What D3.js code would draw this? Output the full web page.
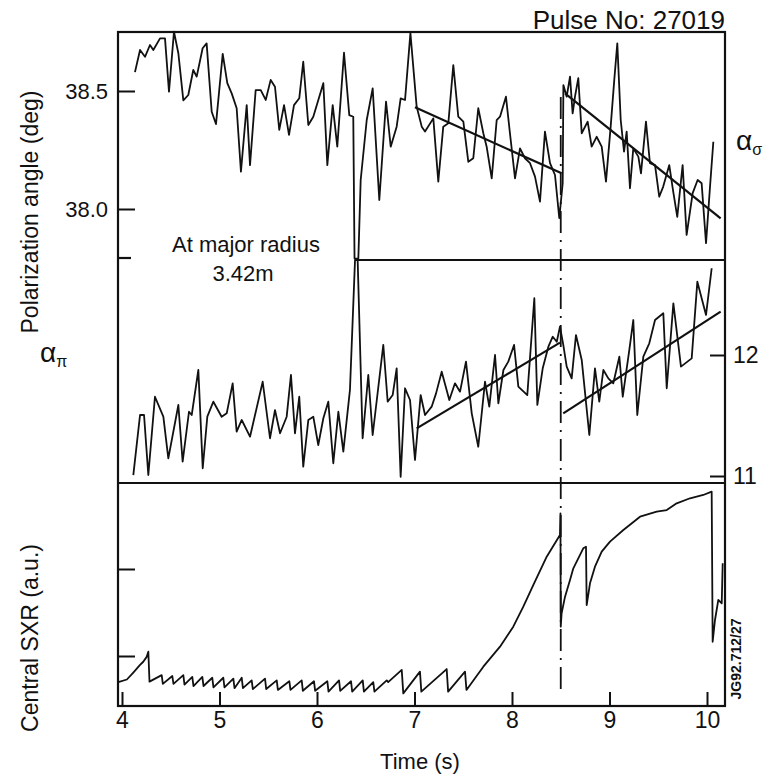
<!DOCTYPE html>
<html lang="en">
<head>
<meta charset="utf-8">
<title>Pulse 27019 polarization angles and SXR</title>
<script src="https://d3js.org/d3.v7.min.js"></script>
<style>
    body { margin: 0; background: #fff; }
    #chart text { font-family: "Liberation Sans", Arial, Helvetica, sans-serif; fill: #111; }
    .trace { fill: none; stroke: #111; stroke-width: 1.8; stroke-linejoin: round; }
    .fit { stroke: #111; stroke-width: 2.2; }
    .frame { fill: none; stroke: #111; stroke-width: 2.2; }
    .tick line { stroke: #111; stroke-width: 2; }
</style>
</head>
<body>
<svg id="chart" width="764" height="774"></svg>
<script>
// ---- data ----
let timeTicks = [4, 5, 6, 7, 8, 9, 10];
let sigmaTicks = [38.0, 38.5];
let piTicks = [11, 12];
let sxrTicks = [1, 2];
let crashTime = 8.5;

// alpha sigma (top trace, left axis, deg)
let sigmaTime = [4.133,4.185,4.236,4.287,4.321,4.390,4.441,4.482,4.533,4.578,4.629,4.680,4.731,4.766,4.827,4.868,4.920,4.964,
    5.033,5.080,5.125,5.176,5.220,5.279,5.313,5.371,5.423,5.474,5.525,5.569,5.613,5.662,5.713,5.764,5.818,5.859,5.911,5.962,
    6.065,6.106,6.161,6.208,6.277,6.331,6.372,6.385,6.424,6.448,6.510,6.571,6.639,6.708,6.756,6.817,6.858,6.903,6.958,
    7.022,7.074,7.108,7.193,7.244,7.295,7.347,7.398,7.449,7.501,7.552,7.603,7.654,7.706,7.740,7.792,7.843,7.877,7.938,7.979,
    8.031,8.082,8.133,8.185,8.236,8.287,8.338,8.390,8.441,8.485,8.520,8.527,8.561,8.595,8.622,8.646,8.680,8.715,8.776,8.817,
    8.868,8.920,8.964,9.012,9.049,9.080,9.115,9.149,9.176,9.210,9.244,9.296,9.323,9.374,9.415,9.467,9.510,9.551,9.613,9.654,
    9.695,9.750,9.791,9.853,9.904,9.945,9.990,10.031,10.065];
let sigmaAngle = [38.58,38.674,38.645,38.695,38.674,38.723,38.723,38.497,38.751,38.66,38.46,38.483,38.589,38.561,38.681,38.702,38.412,38.36,
    38.657,38.533,38.49,38.427,38.158,38.44,38.186,38.504,38.504,38.462,38.547,38.518,38.335,38.44,38.314,38.44,38.469,38.624,38.356,38.391,
    38.533,38.186,38.44,38.264,38.662,38.398,38.391,37.79,37.79,38.123,38.377,38.511,38.038,38.455,38.264,38.349,38.469,38.462,38.745,
    38.434,38.349,38.328,38.384,38.116,38.349,38.363,38.61,38.391,38.37,38.2,38.215,38.427,38.321,38.264,38.13,38.377,38.391,38.476,38.321,
    38.13,38.257,38.215,38.194,38.137,38.031,38.328,38.194,38.144,37.961,38.109,38.525,38.476,38.561,38.405,38.476,38.554,38.321,38.37,38.264,
    38.306,38.264,38.116,38.349,38.547,38.702,38.377,38.243,38.328,38.088,38.257,38.222,38.151,38.37,38.194,38.186,38.052,38.095,38.186,38.073,
    37.967,38.186,37.89,38.067,38.123,38.109,37.855,38.095,38.285];
let sigmaFits = [[[7.005, 38.431], [8.509, 38.151]], [[8.544, 38.49], [10.14, 37.96]]];

// alpha pi (middle trace, right axis, deg)
let piTime = [4.116,4.185,4.226,4.270,4.338,4.424,4.475,4.578,4.622,4.687,4.715,4.783,4.828,4.875,4.937,
    5.022,5.074,5.135,5.176,5.228,5.313,5.443,5.518,5.569,5.621,5.689,5.733,5.774,5.818,5.859,5.911,5.962,
    6.013,6.065,6.116,6.167,6.219,6.270,6.338,6.390,6.417,6.468,6.526,6.571,6.680,6.725,6.776,6.817,6.858,6.903,6.954,
    7.005,7.063,7.108,7.176,7.221,7.279,7.357,7.415,7.467,7.528,7.587,7.654,7.723,7.767,7.826,7.860,7.912,7.962,
    8.021,8.065,8.157,8.229,8.260,8.315,8.373,8.418,8.459,8.492,8.526,8.561,8.612,8.656,8.715,8.793,8.851,8.895,8.937,8.988,
    9.039,9.101,9.136,9.203,9.244,9.285,9.347,9.408,9.467,9.552,9.587,9.655,9.733,9.843,9.901,9.990,10.048];
let piAngle = [11.008,11.504,11.504,11.008,11.655,11.49,11.146,11.587,11.118,11.531,11.504,11.876,11.064,11.49,11.614,
    11.49,11.518,11.766,11.366,11.463,11.325,11.779,11.312,11.545,11.353,11.49,11.835,11.353,11.655,11.077,11.463,11.49,
    11.256,11.477,11.614,11.105,11.531,11.201,11.711,12.785,12.785,11.312,11.835,11.339,12.083,11.614,11.669,11.89,10.994,11.725,11.628,
    11.132,11.669,11.504,11.573,11.683,11.862,11.628,11.766,11.697,11.945,11.518,11.242,11.779,11.573,12.0,11.601,11.876,11.945,
    12.083,11.739,11.669,12.469,11.587,11.89,12.069,12.151,12.11,12.234,12.083,11.904,11.807,12.165,11.959,11.339,11.89,11.614,11.876,11.807,
    11.766,11.986,11.655,12.041,12.289,11.504,11.986,12.097,12.289,12.345,11.725,12.427,11.904,11.972,12.606,12.331,12.717];
let piFits = [[[7.022, 11.394], [8.492, 12.102]], [[8.526, 11.518], [10.14, 12.358]]];

// central soft X-ray (bottom trace, a.u.)
let sxrTime = [3.962,4.050,4.116,4.185,4.218,4.253,4.270,4.282,
    4.407,4.419,4.516,4.528,4.629,4.641,4.721,4.733,4.824,4.836,4.926,4.938,5.039,5.051,5.142,5.154,5.228,5.240,
    5.330,5.342,5.467,5.479,5.587,5.599,5.716,5.728,5.843,5.855,5.969,5.981,6.106,6.118,6.226,6.238,6.349,6.361,
    6.469,6.481,6.577,6.589,6.715,6.730,6.869,6.885,7.056,7.070,7.330,7.345,7.518,7.533,
    7.706,7.877,8.013,8.116,8.218,8.356,8.492,8.497,8.500,8.509,8.544,8.595,8.629,8.680,8.731,8.759,8.766,
    8.800,8.851,8.920,9.005,9.142,9.313,9.484,9.587,9.689,9.826,9.962,10.048,10.058,10.082,10.116,10.151,10.161];
let sxrLevel = [0.70,0.73,0.81,0.897,0.934,0.99,1.05,0.705,
    0.78,0.68,0.77,0.68,0.78,0.67,0.76,0.655,0.76,0.655,0.75,0.64,0.75,0.64,0.74,0.63,0.75,0.63,
    0.72,0.62,0.74,0.62,0.72,0.61,0.71,0.61,0.72,0.60,0.71,0.60,0.71,0.59,0.72,0.60,0.71,0.59,
    0.72,0.59,0.70,0.59,0.72,0.70,0.84,0.57,0.82,0.59,0.85,0.59,0.82,0.61,
    0.877,1.107,1.337,1.567,1.816,2.141,2.391,2.64,1.337,1.491,1.682,1.874,2.008,2.123,2.238,2.256,1.586,
    1.836,2.026,2.199,2.314,2.448,2.601,2.659,2.678,2.755,2.813,2.851,2.889,1.164,1.414,1.644,1.606,2.066];

// ---- layout ----
let svg = d3.select("#chart");
let frameLeft = 118, frameRight = 725, frameTop = 32, frameBottom = 706;
let midTop = 260, divider = 483;

let x = d3.scaleLinear().domain([4, 10]).range([122, 707]);
let ySigma = d3.scaleLinear().domain([38.0, 38.5]).range([209, 91]);
let yPi = d3.scaleLinear().domain([11, 12]).range([476, 355]);
let ySxr = d3.scaleLinear().domain([1, 2]).range([656, 569]);

// frames
svg.append("rect").attr("class", "frame")
    .attr("x", frameLeft).attr("y", frameTop)
    .attr("width", frameRight - frameLeft).attr("height", frameBottom - frameTop);
svg.append("line").attr("class", "frame")
    .attr("x1", frameLeft).attr("x2", frameRight).attr("y1", divider).attr("y2", divider);
svg.append("line").attr("class", "frame")
    .attr("x1", x(6.42)).attr("x2", frameRight).attr("y1", midTop).attr("y2", midTop);
svg.append("line").attr("class", "frame")
    .attr("x1", frameLeft).attr("x2", frameLeft + 13).attr("y1", midTop - 2).attr("y2", midTop - 2);

// axes
let xAxis = d3.axisBottom(x).tickValues(timeTicks).tickFormat(d3.format("d"))
    .tickSizeInner(-14).tickSizeOuter(0).tickPadding(6);
let gx = svg.append("g").attr("transform", `translate(0,${frameBottom})`).call(xAxis);
gx.select(".domain").remove();
gx.selectAll("text").style("font-size", "23px");

let gs = svg.append("g").attr("transform", `translate(${frameLeft},0)`)
    .call(d3.axisLeft(ySigma).tickValues(sigmaTicks).tickFormat(d3.format(".1f")).tickSizeInner(-17).tickPadding(10));
gs.select(".domain").remove();
gs.selectAll("text").style("font-size", "22px");

let gp = svg.append("g").attr("transform", `translate(${frameRight},0)`)
    .call(d3.axisRight(yPi).tickValues(piTicks).tickFormat(d3.format("d")).tickSizeInner(-15).tickPadding(8));
gp.select(".domain").remove();
gp.selectAll("text").style("font-size", "23px");

let gr = svg.append("g").attr("transform", `translate(${frameLeft},0)`)
    .call(d3.axisLeft(ySxr).tickValues(sxrTicks).tickFormat("").tickSizeInner(-17));
gr.select(".domain").remove();

// traces
function trace(ts, vs, y) {
    let line = d3.line().x(d => x(d[0])).y(d => y(d[1]));
    svg.append("path").attr("class", "trace").attr("d", line(d3.zip(ts, vs)));
}
trace(sigmaTime, sigmaAngle, ySigma);
trace(piTime, piAngle, yPi);
trace(sxrTime, sxrLevel, ySxr);

function fits(list, y) {
    svg.selectAll(null).data(list).enter().append("line").attr("class", "fit")
        .attr("x1", d => x(d[0][0])).attr("y1", d => y(d[0][1]))
        .attr("x2", d => x(d[1][0])).attr("y2", d => y(d[1][1]));
}
fits(sigmaFits, ySigma);
fits(piFits, yPi);

// crash marker
svg.append("line")
    .attr("x1", x(crashTime)).attr("x2", x(crashTime)).attr("y1", 97).attr("y2", 692)
    .attr("stroke", "#111").attr("stroke-width", 1.8).attr("stroke-dasharray", "22,7,2,7");

// labels
svg.append("text").attr("x", frameRight).attr("y", 29).attr("text-anchor", "end")
    .style("font-size", "26px").text("Pulse No: 27019");
svg.append("text").attr("transform", "translate(38,212) rotate(-90)").attr("text-anchor", "middle")
    .style("font-size", "23px").text("Polarization angle (deg)");
svg.append("text").attr("transform", "translate(38,638) rotate(-90)").attr("text-anchor", "middle")
    .style("font-size", "23px").text("Central SXR (a.u.)");
svg.append("text").attr("x", 420).attr("y", 769).attr("text-anchor", "middle")
    .style("font-size", "22px").text("Time (s)");
svg.append("text").attr("x", 246).attr("y", 252).attr("text-anchor", "middle")
    .style("font-size", "22px").text("At major radius");
svg.append("text").attr("x", 243).attr("y", 281).attr("text-anchor", "middle")
    .style("font-size", "22px").text("3.42m");

let aSig = svg.append("text").attr("x", 736).attr("y", 150).style("font-size", "28px").text("α");
aSig.append("tspan").attr("dy", 5).style("font-size", "16px").text("σ");
let aPi = svg.append("text").attr("x", 40).attr("y", 362).style("font-size", "28px").text("α");
aPi.append("tspan").attr("dy", 5).style("font-size", "16px").text("π");

svg.append("text").attr("transform", "translate(741,659) rotate(-90)").attr("text-anchor", "middle")
    .style("font-size", "14px").style("font-weight", "bold").text("JG92.712/27");
</script>
</body>
</html>
